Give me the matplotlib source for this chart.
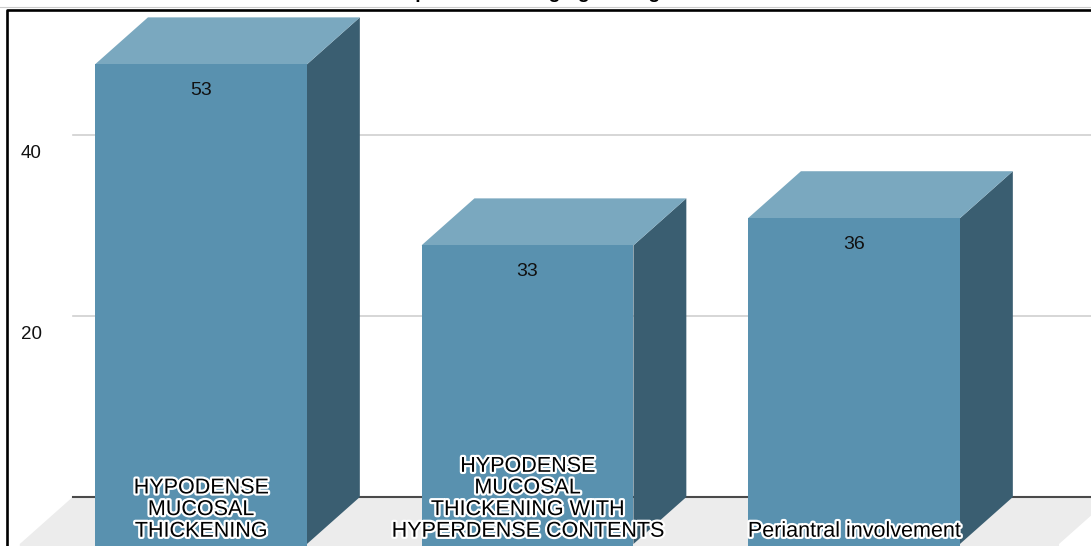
import matplotlib.pyplot as plt
from matplotlib.patches import Polygon, Rectangle
import matplotlib.patheffects as pe

# chart data
categories = ["HYPODENSE\nMUCOSAL\nTHICKENING",
              "HYPODENSE\nMUCOSAL\nTHICKENING WITH\nHYPERDENSE CONTENTS",
              "Periantral involvement"]
values = [53, 33, 36]
ticks = [20, 40]
title = "Comparison of imaging findings"

# colours of the 3d boxes
front_col = "#5991af"
top_col = "#7aa8bf"
side_col = "#3a5e71"
floor_col = "#ececec"

bar_w = 0.649
depth_x = 0.162
depth_y = 5.19

fig = plt.figure(figsize=(10.91, 5.46), dpi=100)
ax = fig.add_axes([0, 0, 1, 1])
ax.set_xlim(-0.6156, 2.7259)
ax.set_ylim(-0.221, 60.11)
ax.axis("off")

# floor
floor_left = -0.555
floor_right = 2.628
ax.add_patch(Polygon([(floor_left, 0), (floor_left + depth_x, depth_y),
                      (floor_right + depth_x, depth_y), (floor_right, 0),
                      (floor_right, -1), (floor_left, -1)],
                     closed=True, facecolor=floor_col, edgecolor="none", zorder=1))

# back wall grid lines and base line
x_back = floor_left + depth_x
for t in ticks:
    ax.plot([x_back, 3], [t + depth_y, t + depth_y], color="#d0d0d0", lw=1.2, zorder=1)
    ax.text(-0.52, t + 3.2, str(t), ha="center", va="center", fontsize=13.5,
            family="Liberation Sans", color="#111111")
ax.plot([x_back, 3], [depth_y, depth_y], color="#4a4a4a", lw=1.5, zorder=1)

# 3d bars
for i, v in enumerate(values):
    x0 = i - bar_w / 2
    x1 = i + bar_w / 2
    ax.add_patch(Polygon([(x1, 0), (x1 + depth_x, depth_y), (x1 + depth_x, v + depth_y), (x1, v)],
                         closed=True, facecolor=side_col, edgecolor="none", zorder=3))
    ax.add_patch(Polygon([(x0, v), (x1, v), (x1 + depth_x, v + depth_y), (x0 + depth_x, v + depth_y)],
                         closed=True, facecolor=top_col, edgecolor="none", zorder=3))
    ax.add_patch(Rectangle((x0, -1), bar_w, v + 1, facecolor=front_col, edgecolor="none", zorder=4))
    ax.text(i, v - 2.9, str(v), ha="center", va="center", fontsize=14,
            family="Liberation Sans", color="#111111", zorder=5)
    ax.text(i, 0.25, categories[i], ha="center", va="bottom", fontsize=15.5,
            family="Liberation Sans", color="black", linespacing=1.04, zorder=6,
            path_effects=[pe.withStroke(linewidth=3.2, foreground="white")])

# outer frame
ax.plot([7 / 1091, 7 / 1091, 1.01], [-0.01, 1 - 10 / 546, 1 - 10 / 546], color="black",
        lw=1.9, transform=ax.transAxes, clip_on=False, zorder=10, solid_capstyle="projecting")
ax.plot([0, 1], [1 - 7 / 546, 1 - 7 / 546], color="#cccccc", lw=0.8, transform=ax.transAxes, zorder=9)

# title mostly cropped off the top
fig.text(0.478, 1 + 1.5 / 546, title, ha="center", va="baseline", fontsize=14,
         fontweight="bold", family="Liberation Sans")

fig.savefig("out.png", dpi=100)
